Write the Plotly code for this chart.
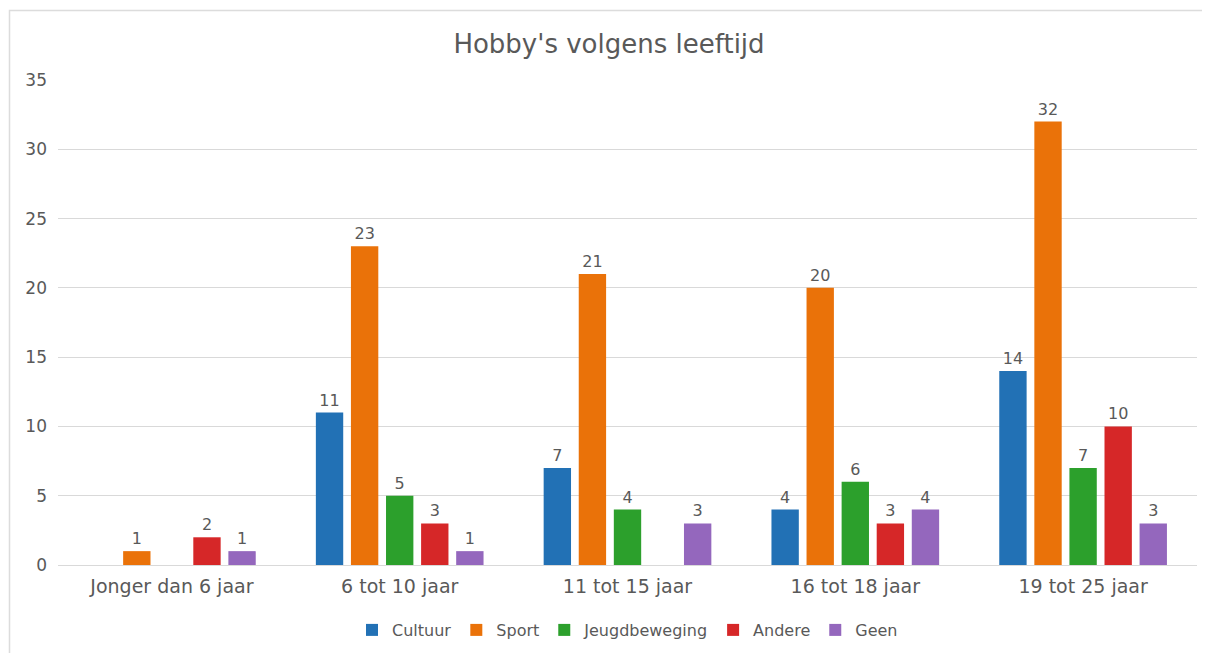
import plotly.graph_objects as go

###############################################################################
# Data

categories = ["Jonger dan 6 jaar", "6 tot 10 jaar", "11 tot 15 jaar",
              "16 tot 18 jaar", "19 tot 25 jaar"]

cultuur = [None, 11, 7, 4, 14]
sport = [1, 23, 21, 20, 32]
jeugdbeweging = [None, 5, 4, 6, 7]
andere = [2, 3, None, 3, 10]
geen = [1, 1, 3, 4, 3]

series = [
    ("Cultuur", cultuur, "#2271b5"),
    ("Sport", sport, "#ea7209"),
    ("Jeugdbeweging", jeugdbeweging, "#2ca02c"),
    ("Andere", andere, "#d62728"),
    ("Geen", geen, "#9467bd"),
]

###############################################################################
# Figure

# the page body adds an 8px margin, so the figure is a bit smaller than the window
W, H = 1202, 645
L, R, T, B = 50, 13, 72, 88
plot_w = W - L - R
plot_h = H - T - B

font_family = "DejaVu Sans"
text_color = "#595959"
grid_color = "#d9d9d9"

fig = go.Figure()

for name, values, color in series:
    fig.add_trace(
        go.Bar(
            x=categories,
            y=values,
            name=name,
            marker=dict(color=color, line=dict(width=0)),
            text=[v if v is not None else "" for v in values],
            textposition="outside",
            cliponaxis=False,
            textfont=dict(family=font_family, size=16, color=text_color),
        )
    )

fig.update_layout(
    width=W,
    height=H,
    autosize=False,
    paper_bgcolor="white",
    plot_bgcolor="white",
    barmode="group",
    bargap=0.23,
    bargroupgap=0.22,
    margin=dict(l=L, r=R, t=T, b=B),
    font=dict(family=font_family, size=16, color=text_color),
    title=dict(
        text="Hobby's volgens leeftijd",
        x=0.5,
        xanchor="center",
        y=1 - 36 / H,
        yanchor="middle",
        yref="container",
        font=dict(family=font_family, size=26, color=text_color),
    ),
    legend=dict(
        orientation="h",
        x=0.5,
        xanchor="center",
        y=1 - 622 / H,
        yanchor="middle",
        yref="container",
        font=dict(family=font_family, size=16, color=text_color),
        itemwidth=30,
        traceorder="normal",
    ),
    xaxis=dict(
        showgrid=False,
        showline=False,
        ticks="",
        ticklabelstandoff=8,
        tickfont=dict(family=font_family, size=19, color=text_color),
    ),
    yaxis=dict(
        range=[0, 35],
        dtick=5,
        showgrid=True,
        gridcolor=grid_color,
        gridwidth=1,
        zeroline=True,
        zerolinecolor=grid_color,
        zerolinewidth=1,
        showline=False,
        ticks="",
        ticklabelstandoff=10,
        tickfont=dict(family=font_family, size=17, color=text_color),
    ),
    shapes=[
        dict(
            type="rect",
            xref="paper",
            yref="paper",
            x0=(1.5 - L) / plot_w,
            x1=(W + 10 - L) / plot_w,
            y0=(T + plot_h - H - 10) / plot_h,
            y1=(T + plot_h - 2.5) / plot_h,
            line=dict(color="#dcdcdc", width=1.5),
            fillcolor="rgba(0,0,0,0)",
            layer="below",
        )
    ],
)

fig.write_html("out.html")
